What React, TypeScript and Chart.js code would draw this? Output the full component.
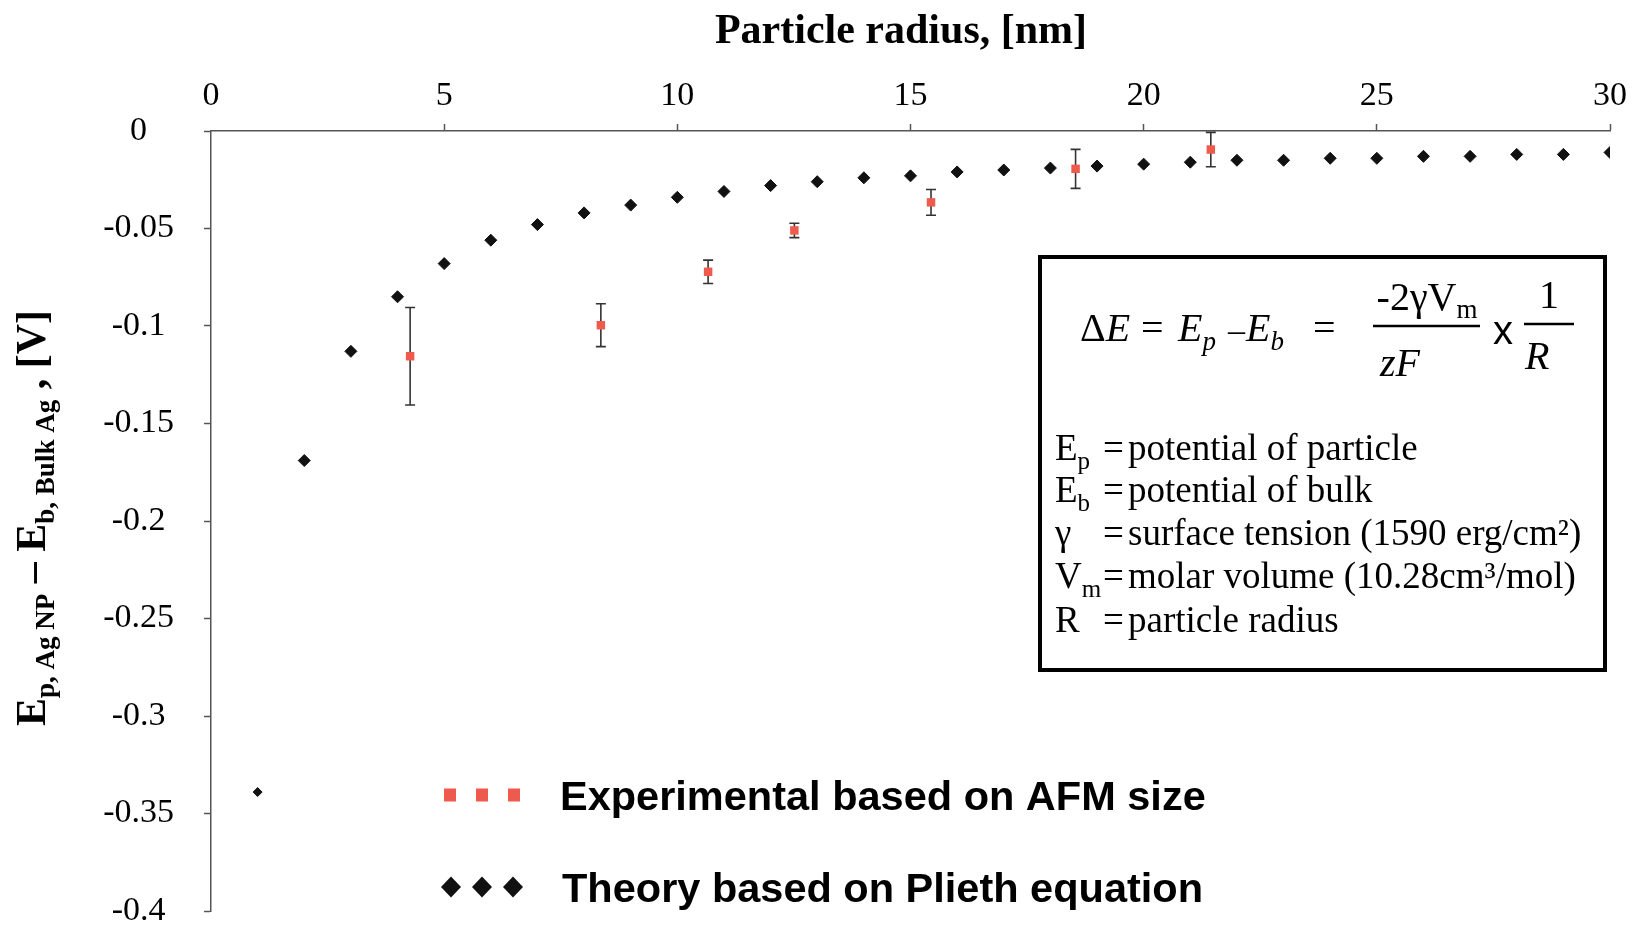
import React, { useEffect, useRef } from 'react';
import { Chart, registerables } from 'chart.js';

Chart.register(...registerables);

// ---------- data ----------
const theoryRadius = [1, 2, 3, 4, 5, 6, 7, 8, 9, 10, 11, 12, 13, 14, 15, 16, 17, 18, 19, 20, 21, 22, 23, 24, 25, 26, 27, 28, 29, 30];
const theoryPotential = [
  -0.339, -0.169, -0.113, -0.085, -0.068, -0.056, -0.048, -0.042, -0.038, -0.034,
  -0.031, -0.028, -0.026, -0.024, -0.023, -0.021, -0.020, -0.019, -0.018, -0.017,
  -0.016, -0.015, -0.015, -0.014, -0.014, -0.013, -0.013, -0.012, -0.012, -0.011,
];
const expRadius = [4.27, 8.36, 10.66, 12.51, 15.44, 18.54, 21.44];
const expPotential = [-0.1155, -0.0996, -0.0722, -0.051, -0.0366, -0.0194, -0.0095];
const expError = [0.025, 0.011, 0.006, 0.0037, 0.0066, 0.01, 0.0088];

const xTickLabels = ['0', '5', '10', '15', '20', '25', '30'];
const yTickLabels = ['0', '-0.05', '-0.1', '-0.15', '-0.2', '-0.25', '-0.3', '-0.35', '-0.4'];

const xTitle = 'Particle radius, [nm]';
const legendLabels = ['Experimental based on AFM size', 'Theory based on Plieth equation'];
const definitionSymbols = [['E', 'p'], ['E', 'b'], ['γ', ''], ['V', 'm'], ['R', '']];
const definitionTexts = [
  'potential of particle',
  'potential of bulk',
  'surface tension (1590 erg/cm²)',
  'molar volume (10.28cm³/mol)',
  'particle radius',
];

// ---------- styles ----------
const SERIF = '"Liberation Serif", "Times New Roman", serif';
const SANS = '"Liberation Sans", Arial, sans-serif';
const RED = '#EF5A4E';
const BLACK = '#111111';
const AXIS = '#555555';

type Run = { t: string; f: string; dy?: number };

function runsWidth(ctx: CanvasRenderingContext2D, runs: Run[]) {
  let w = 0;
  for (const r of runs) {
    ctx.font = r.f;
    w += ctx.measureText(r.t).width;
  }
  return w;
}

function drawRuns(ctx: CanvasRenderingContext2D, x: number, y: number, runs: Run[]) {
  let cx = x;
  for (const r of runs) {
    ctx.font = r.f;
    ctx.fillText(r.t, cx, y + (r.dy || 0));
    cx += ctx.measureText(r.t).width;
  }
  return cx;
}

const findLabel = (labels: string[], v: number) => {
  const l = labels.find((s) => Math.abs(parseFloat(s) - v) < 1e-9);
  return l === undefined ? '' : l;
};

const errorBarPlugin = {
  id: 'errorBars',
  beforeDatasetsDraw(chart: any) {
    const { ctx, scales } = chart;
    const x = scales.x;
    const y = scales.y;
    ctx.save();
    ctx.strokeStyle = '#333333';
    ctx.lineWidth = 1.6;
    expRadius.forEach((r, i) => {
      const px = x.getPixelForValue(r);
      const top = y.getPixelForValue(expPotential[i] + expError[i]);
      const bot = y.getPixelForValue(expPotential[i] - expError[i]);
      ctx.beginPath();
      ctx.moveTo(px, top);
      ctx.lineTo(px, bot);
      ctx.moveTo(px - 5, top);
      ctx.lineTo(px + 5, top);
      ctx.moveTo(px - 5, bot);
      ctx.lineTo(px + 5, bot);
      ctx.stroke();
    });
    ctx.restore();
  },
};

const decorPlugin = {
  id: 'decor',
  afterDraw(chart: any) {
    const { ctx, chartArea: ca } = chart;
    ctx.save();
    ctx.fillStyle = '#000';
    ctx.textBaseline = 'alphabetic';

    // x-axis title (top)
    ctx.font = `bold 42px ${SERIF}`;
    ctx.textAlign = 'center';
    ctx.fillText(xTitle, ca.left + 690, ca.top - 88);
    ctx.textAlign = 'left';

    // y-axis title (rotated, with subscripts)
    const B = (s: number) => `bold ${s}px ${SERIF}`;
    const yRuns: Run[] = [
      { t: 'E', f: B(42) },
      { t: 'p, Ag NP', f: B(27), dy: 9 },
      { t: ' – E', f: B(42) },
      { t: 'b, Bulk Ag', f: B(27), dy: 9 },
      { t: ' , [V]', f: B(42) },
    ];
    ctx.save();
    ctx.translate(ca.left - 166, ca.top + 387);
    ctx.rotate(-Math.PI / 2);
    const yw = runsWidth(ctx, yRuns);
    drawRuns(ctx, -yw / 2, 0, yRuns);
    ctx.restore();

    // legend
    const sqX = [239, 271, 303];
    ctx.fillStyle = RED;
    sqX.forEach((dx) => ctx.fillRect(ca.left + dx - 6, ca.top + 664 - 6.5, 12, 13));
    const diX = [240, 271, 302];
    ctx.fillStyle = BLACK;
    diX.forEach((dx) => {
      const cx = ca.left + dx;
      const cy = ca.top + 756;
      ctx.beginPath();
      ctx.moveTo(cx - 10, cy);
      ctx.lineTo(cx, cy - 10.5);
      ctx.lineTo(cx + 10, cy);
      ctx.lineTo(cx, cy + 10.5);
      ctx.closePath();
      ctx.fill();
    });
    ctx.fillStyle = '#000';
    ctx.font = `bold 41.5px ${SANS}`;
    ctx.fillText(legendLabels[0], ca.left + 349, ca.top + 679);
    ctx.fillText(legendLabels[1], ca.left + 351, ca.top + 771);

    // formula box
    const bx = ca.left + 827;
    const by = ca.top + 124;
    const bw = 569;
    const bh = 417;
    ctx.strokeStyle = '#000';
    ctx.lineWidth = 4;
    ctx.strokeRect(bx + 2, by + 2, bw - 4, bh - 4);

    const R = (s: number) => `${s}px ${SERIF}`;
    const I = (s: number) => `italic ${s}px ${SERIF}`;
    const fy = by + 86;
    drawRuns(ctx, bx + 42, fy, [{ t: 'Δ', f: R(40) }, { t: 'E', f: I(40) }]);
    drawRuns(ctx, bx + 103, fy, [{ t: '=', f: R(40) }]);
    drawRuns(ctx, bx + 140, fy, [{ t: 'E', f: I(40) }, { t: 'p', f: I(27), dy: 9 }]);
    drawRuns(ctx, bx + 190, fy, [{ t: '–', f: R(34) }]);
    drawRuns(ctx, bx + 208, fy, [{ t: 'E', f: I(40) }, { t: 'b', f: I(27), dy: 9 }]);
    drawRuns(ctx, bx + 275, fy, [{ t: '=', f: R(40) }]);

    const numRuns: Run[] = [{ t: '-2γV', f: R(40) }, { t: 'm', f: R(27), dy: 8 }];
    const nw = runsWidth(ctx, numRuns);
    drawRuns(ctx, bx + 389 - nw / 2, by + 55, numRuns);
    ctx.lineWidth = 2.5;
    ctx.beginPath();
    ctx.moveTo(bx + 335, by + 71);
    ctx.lineTo(bx + 442, by + 71);
    ctx.moveTo(bx + 486, by + 69);
    ctx.lineTo(bx + 536, by + 69);
    ctx.stroke();
    drawRuns(ctx, bx + 342, by + 121, [{ t: 'zF', f: I(40) }]);
    drawRuns(ctx, bx + 455, by + 89, [{ t: 'x', f: `40px ${SANS}` }]);
    ctx.font = R(40);
    ctx.textAlign = 'center';
    ctx.fillText('1', bx + 511, by + 53);
    ctx.textAlign = 'left';
    drawRuns(ctx, bx + 487, by + 114, [{ t: 'R', f: I(40) }]);

    // definitions
    const baseY = [205, 247, 290, 333, 377];
    definitionSymbols.forEach((sym, i) => {
      const yy = by + baseY[i];
      const runs: Run[] = [{ t: sym[0], f: R(37) }];
      if (sym[1]) runs.push({ t: sym[1], f: R(25), dy: 9 });
      drawRuns(ctx, bx + 17, yy, runs);
      drawRuns(ctx, bx + 65, yy, [{ t: '=', f: R(37) }]);
      drawRuns(ctx, bx + 90, yy, [{ t: definitionTexts[i], f: R(37) }]);
    });

    ctx.restore();
  },
};

export default function App() {
  const ref = useRef<HTMLCanvasElement>(null);

  useEffect(() => {
    document.body.style.margin = '0';
    document.body.style.overflow = 'hidden';
    const canvas = ref.current;
    if (!canvas) return;

    const tickFont = { family: SERIF, size: 34 };

    const chart = new Chart(canvas, {
      type: 'scatter',
      data: {
        datasets: [
          {
            label: legendLabels[0],
            data: expRadius.map((x, i) => ({ x, y: expPotential[i] })),
            pointStyle: 'rect',
            pointRadius: 6,
            pointHoverRadius: 6,
            backgroundColor: RED,
            borderColor: RED,
            borderWidth: 0,
            order: 0,
          },
          {
            label: legendLabels[1],
            data: theoryRadius.map((x, i) => ({ x, y: theoryPotential[i] })),
            pointStyle: 'rectRot',
            pointRadius: (c: any) => (c.dataIndex === 0 ? 4.5 : 6),
            backgroundColor: BLACK,
            borderColor: BLACK,
            borderWidth: 1,
            order: 1,
          },
        ],
      },
      options: {
        responsive: false,
        animation: false,
        events: [],
        layout: { padding: { left: 0, top: 0, right: 22, bottom: 15 } },
        plugins: {
          legend: { display: false },
          tooltip: { enabled: false },
          title: { display: false },
        },
        scales: {
          x: {
            type: 'linear',
            position: 'top',
            min: parseFloat(xTickLabels[0]),
            max: parseFloat(xTickLabels[xTickLabels.length - 1]),
            ticks: {
              stepSize: 5,
              padding: 8,
              font: tickFont,
              color: '#000',
              maxRotation: 0,
              autoSkip: false,
              callback: (v: any) => findLabel(xTickLabels, Number(v)),
            },
            grid: {
              display: true,
              drawOnChartArea: false,
              drawTicks: true,
              tickLength: 7,
              tickWidth: 1.5,
              tickColor: (c: any) => (c.tick && c.tick.value === 0 ? 'rgba(0,0,0,0)' : AXIS),
              color: AXIS,
            },
            border: { display: true, color: AXIS, width: 1.5 },
            afterFit: (s: any) => {
              s.height = 131;
              s.paddingLeft = 0;
              s.paddingRight = 0;
            },
          },
          y: {
            type: 'linear',
            position: 'left',
            min: parseFloat(yTickLabels[yTickLabels.length - 1]),
            max: parseFloat(yTickLabels[0]),
            ticks: {
              stepSize: 0.05,
              padding: 30,
              crossAlign: 'center',
              font: tickFont,
              color: '#000',
              autoSkip: false,
              callback: (v: any) => findLabel(yTickLabels, Number(v)),
            },
            grid: {
              display: true,
              drawOnChartArea: false,
              drawTicks: true,
              tickLength: 7,
              tickWidth: 1.5,
              tickColor: AXIS,
              color: AXIS,
            },
            border: { display: true, color: AXIS, width: 1.5 },
            afterFit: (s: any) => {
              s.width = 211;
              s.paddingTop = 0;
              s.paddingBottom = 0;
            },
          },
        },
      } as any,
      plugins: [errorBarPlugin, decorPlugin],
    });

    return () => chart.destroy();
  }, []);

  return <canvas ref={ref} width={1632} height={926} style={{ display: 'block' }} />;
}
